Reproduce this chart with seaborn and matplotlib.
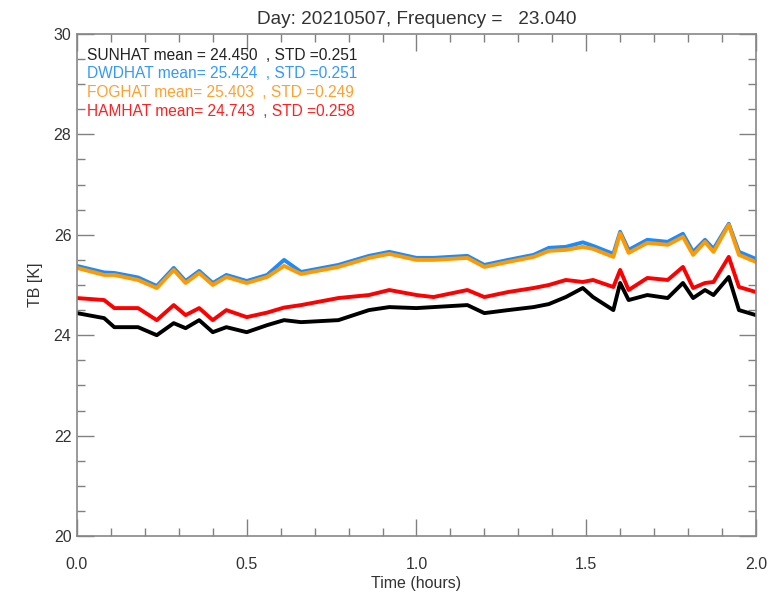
import numpy as np
import pandas as pd
import matplotlib
matplotlib.use("Agg")
import matplotlib.pyplot as plt
from matplotlib.ticker import MultipleLocator, FormatStrFormatter
import seaborn as sns

# время (часы) и значения яркостной температуры
time_h = [0.0, 0.08, 0.11, 0.18, 0.235, 0.285, 0.32, 0.36, 0.40, 0.44, 0.50, 0.56, 0.61,
          0.66, 0.77, 0.86, 0.92, 1.0, 1.05, 1.15, 1.2, 1.27, 1.345, 1.39, 1.44, 1.49,
          1.52, 1.58, 1.60, 1.625, 1.68, 1.74, 1.785, 1.815, 1.85, 1.875, 1.92, 1.95, 2.0]

sunhat = [24.44, 24.34, 24.16, 24.16, 24.00, 24.24, 24.14, 24.30, 24.06, 24.16, 24.06, 24.20, 24.30,
          24.26, 24.30, 24.50, 24.56, 24.54, 24.56, 24.60, 24.44, 24.50, 24.56, 24.62, 24.76, 24.94,
          24.76, 24.50, 25.04, 24.70, 24.80, 24.74, 25.04, 24.74, 24.90, 24.80, 25.16, 24.50, 24.40]

dwdhat = [25.38, 25.25, 25.24, 25.15, 24.98, 25.34, 25.08, 25.28, 25.04, 25.20, 25.08, 25.20, 25.50,
          25.26, 25.40, 25.58, 25.66, 25.54, 25.54, 25.58, 25.40, 25.50, 25.60, 25.74, 25.76, 25.85,
          25.78, 25.62, 26.06, 25.70, 25.90, 25.86, 26.02, 25.66, 25.90, 25.72, 26.22, 25.66, 25.52]

foghat = [25.34, 25.20, 25.20, 25.10, 24.94, 25.30, 25.04, 25.24, 25.00, 25.16, 25.04, 25.16, 25.38,
          25.22, 25.36, 25.54, 25.62, 25.50, 25.50, 25.54, 25.36, 25.46, 25.56, 25.68, 25.70, 25.76,
          25.72, 25.56, 26.03, 25.64, 25.84, 25.80, 25.96, 25.60, 25.86, 25.66, 26.20, 25.60, 25.46]

hamhat = [24.74, 24.70, 24.54, 24.54, 24.30, 24.60, 24.40, 24.54, 24.30, 24.50, 24.36, 24.45, 24.55,
          24.60, 24.74, 24.80, 24.90, 24.80, 24.76, 24.90, 24.76, 24.86, 24.94, 25.00, 25.10, 25.06,
          25.10, 24.96, 25.30, 24.90, 25.14, 25.10, 25.36, 24.94, 25.04, 25.06, 25.56, 24.96, 24.86]

names = ["SUNHAT", "DWDHAT", "FOGHAT", "HAMHAT"]
means = ["mean = 24.450", "mean= 25.424", "mean= 25.403", "mean= 24.743"]
stds = ["0.251", "0.251", "0.249", "0.258"]
line_colors = ["black", "#1a8cff", "#ff9900", "#ff0000"]
text_colors = ["#222222", "#3399ff", "#ffa030", "#ff2020"]

sns.set_style("ticks")
plt.rcParams["font.family"] = ["Liberation Sans", "DejaVu Sans"]

fig = plt.figure(figsize=(7.69, 5.93), dpi=100)
ax = fig.add_axes([0.1001, 0.0961, 0.8829, 0.8466])

for series, col in zip([sunhat, dwdhat, foghat, hamhat], line_colors):
    sns.lineplot(x=time_h, y=series, color=col, linewidth=2.8, ax=ax)

ax.set_xlim(0, 2)
ax.set_ylim(20, 30)
ax.xaxis.set_major_locator(MultipleLocator(0.5))
ax.xaxis.set_minor_locator(MultipleLocator(0.1))
ax.yaxis.set_major_locator(MultipleLocator(2))
ax.yaxis.set_minor_locator(MultipleLocator(0.5))
ax.xaxis.set_major_formatter(FormatStrFormatter("%.1f"))
ax.tick_params(which="both", direction="in", top=True, right=True, color="#808080",
               labelsize=11.5, labelcolor="#333333")
ax.tick_params(axis="x", which="major", pad=15)
ax.tick_params(axis="y", which="major", pad=4)
ax.tick_params(which="major", length=12, width=1)
ax.tick_params(which="minor", length=6, width=1)
for sp in ax.spines.values():
    sp.set_color("#888888")
    sp.set_linewidth(1.2)

ax.set_xlabel("Time (hours)", fontsize=11.5, color="#333333", labelpad=3)
ax.set_ylabel("TB [K]", fontsize=11.5, color="#333333", labelpad=8)
ax.set_title("Day: 20210507, Frequency =   23.040", fontsize=13.7, color="#333333", pad=7)

for i, (n, m, s, c) in enumerate(zip(names, means, stds, text_colors)):
    ax.text(0.0147, 0.958 - i * 0.0375, f"{n} {m}  , STD ={s}", transform=ax.transAxes,
            color=c, fontsize=11.2, va="center", ha="left")

fig.savefig("out.png", dpi=100)
